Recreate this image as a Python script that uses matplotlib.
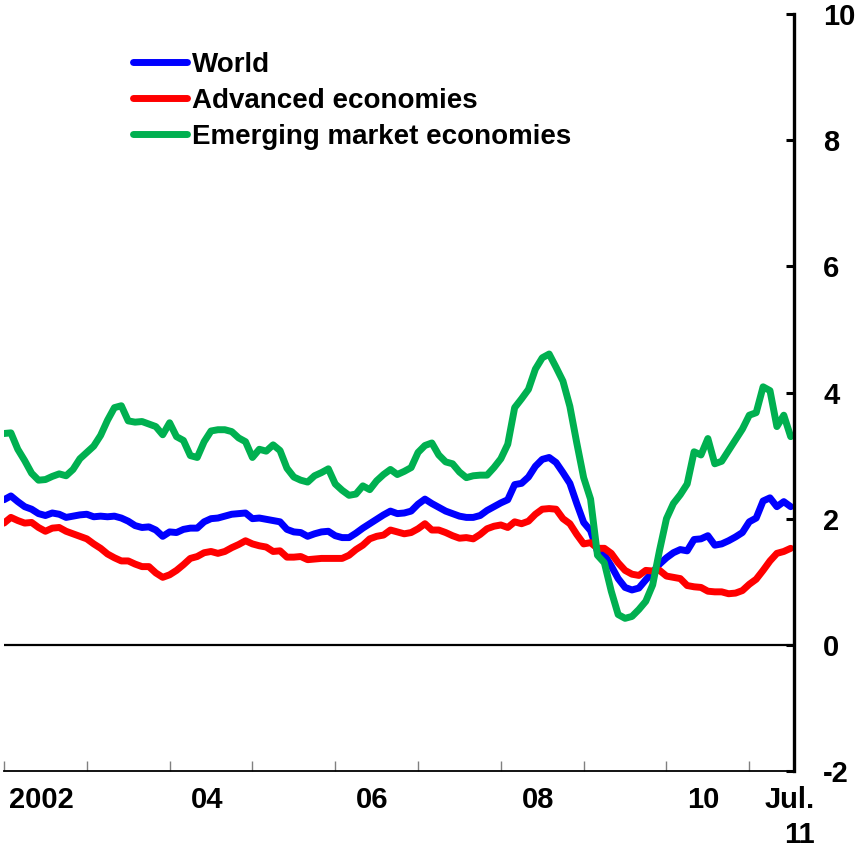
import numpy as np
import matplotlib
matplotlib.use('Agg')
import matplotlib.pyplot as plt

plt.rcParams['font.family'] = ['Liberation Sans', 'DejaVu Sans']
plt.rcParams['font.weight'] = 'bold'
plt.rcParams['axes.unicode_minus'] = False

# monthly, Jan 2002 .. Jul 2011
start_year = 2002
n_months = 115

world = [2.30, 2.36, 2.27, 2.19, 2.15, 2.08, 2.05, 2.09, 2.07, 2.02, 2.04, 2.06,
         2.07, 2.03, 2.04, 2.03, 2.04, 2.01, 1.96, 1.89, 1.86, 1.87, 1.82, 1.72,
         1.79, 1.78, 1.83, 1.85, 1.85, 1.95, 2.00, 2.01, 2.04, 2.07, 2.08, 2.09,
         2.00, 2.01, 1.99, 1.97, 1.95, 1.83, 1.79, 1.78, 1.72, 1.76, 1.79, 1.80,
         1.73, 1.70, 1.70, 1.77, 1.85, 1.92, 1.99, 2.06, 2.12, 2.08, 2.09, 2.12,
         2.23, 2.31, 2.24, 2.18, 2.12, 2.08, 2.04, 2.02, 2.02, 2.05, 2.13, 2.19,
         2.25, 2.30, 2.54, 2.56, 2.66, 2.83, 2.94, 2.97, 2.89, 2.73, 2.56, 2.24,
         1.94, 1.81, 1.48, 1.43, 1.25, 1.05, 0.91, 0.87, 0.90, 1.03, 1.15, 1.28,
         1.38, 1.46, 1.51, 1.49, 1.67, 1.68, 1.73, 1.58, 1.60, 1.65, 1.71, 1.78,
         1.95, 2.01, 2.28, 2.33, 2.19, 2.27, 2.19]

advanced = [1.93, 2.02, 1.97, 1.93, 1.94, 1.86, 1.80, 1.85, 1.86, 1.80, 1.76, 1.72,
            1.68, 1.60, 1.53, 1.44, 1.38, 1.33, 1.33, 1.28, 1.24, 1.24, 1.14, 1.07,
            1.11, 1.18, 1.27, 1.37, 1.40, 1.46, 1.48, 1.45, 1.48, 1.54, 1.59, 1.65,
            1.60, 1.57, 1.55, 1.48, 1.49, 1.39, 1.39, 1.40, 1.35, 1.36, 1.37, 1.37,
            1.37, 1.37, 1.42, 1.51, 1.58, 1.68, 1.72, 1.74, 1.82, 1.79, 1.76, 1.78,
            1.84, 1.92, 1.82, 1.82, 1.78, 1.73, 1.69, 1.70, 1.68, 1.75, 1.84, 1.88,
            1.90, 1.86, 1.95, 1.92, 1.96, 2.07, 2.15, 2.16, 2.15, 2.00, 1.92, 1.75,
            1.60, 1.62, 1.53, 1.53, 1.45, 1.30, 1.18, 1.12, 1.10, 1.18, 1.17, 1.18,
            1.09, 1.07, 1.05, 0.94, 0.92, 0.91, 0.85, 0.84, 0.84, 0.81, 0.82, 0.86,
            0.96, 1.04, 1.18, 1.33, 1.45, 1.48, 1.53]

emerging = [3.35, 3.36, 3.10, 2.92, 2.72, 2.61, 2.62, 2.67, 2.71, 2.68, 2.78, 2.95,
            3.05, 3.15, 3.32, 3.56, 3.76, 3.79, 3.55, 3.53, 3.54, 3.50, 3.46, 3.33,
            3.52, 3.30, 3.24, 3.00, 2.97, 3.22, 3.39, 3.41, 3.41, 3.38, 3.28, 3.22,
            2.97, 3.10, 3.07, 3.17, 3.08, 2.80, 2.66, 2.61, 2.58, 2.68, 2.73, 2.79,
            2.55, 2.45, 2.37, 2.39, 2.52, 2.46, 2.60, 2.70, 2.78, 2.70, 2.75, 2.81,
            3.05, 3.16, 3.20, 3.01, 2.90, 2.87, 2.74, 2.65, 2.68, 2.69, 2.69, 2.81,
            2.95, 3.18, 3.76, 3.90, 4.05, 4.37, 4.55, 4.61, 4.40, 4.18, 3.78, 3.20,
            2.65, 2.31, 1.42, 1.30, 0.85, 0.48, 0.42, 0.45, 0.56, 0.69, 0.95, 1.50,
            2.00, 2.24, 2.38, 2.55, 3.06, 3.01, 3.27, 2.87, 2.91, 3.08, 3.25, 3.42,
            3.64, 3.68, 4.09, 4.03, 3.46, 3.64, 3.30]

labels = ['World', 'Advanced economies', 'Emerging market economies']
colors = ['#0000FF', '#FF0000', '#00B050']

x_labels = ['2002', '04', '06', '08', '10', 'Jul.\n11']
x_label_pos = [2002.45, 2004.45, 2006.45, 2008.45, 2010.45, 2011.49]

x = start_year + np.arange(n_months) / 12

fig = plt.figure(figsize=(8.55, 8.49), dpi=100)
ax = fig.add_axes([4/855, 1 - 771/849, 790/855, 757/849])

for s, lab, c in zip([world, advanced, emerging], labels, colors):
    ax.plot(x, s, color=c, lw=5, label=lab, solid_capstyle='round')

ax.axhline(0, color='black', lw=1.6)

ax.set_xlim(2002.0, 2011.54)
ax.set_ylim(-2, 10)

# spines
ax.spines['left'].set_visible(False)
ax.spines['top'].set_visible(False)
ax.spines['right'].set_linewidth(2.4)
ax.spines['bottom'].set_linewidth(1.3)

# y axis on the right
ax.yaxis.tick_right()
ax.set_yticks(np.arange(-2, 11, 2))
ax.tick_params(axis='y', direction='in', length=6, width=2.2, pad=21, labelsize=21)

# x axis: year boundaries as ticks, labels centred between them
ax.set_xticks(np.arange(2002, 2012))
ax.set_xticklabels([])
ax.tick_params(axis='x', which='major', direction='in', length=7, width=1.0, color='#808080')
ax.set_xticks(x_label_pos, minor=True)
ax.set_xticklabels(x_labels, minor=True)
ax.tick_params(axis='x', which='minor', length=0, pad=11, labelsize=21)
for t in ax.get_xticklabels(minor=True):
    t.set_verticalalignment('top')
    t.set_multialignment('right')
    t.set_linespacing(1.3)

leg = ax.legend(loc='upper left', bbox_to_anchor=(133/855, 1 - 52/849),
                bbox_transform=fig.transFigure, frameon=False, fontsize=20,
                handlelength=1.95, handletextpad=0.18, labelspacing=0.36,
                borderpad=0, borderaxespad=0)
for line in leg.get_lines():
    line.set_linewidth(5)

fig.savefig('out.png', dpi=100)
